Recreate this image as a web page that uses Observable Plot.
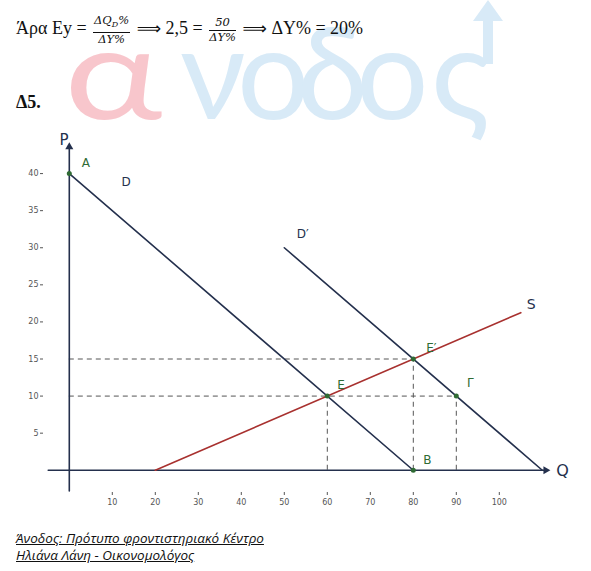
<!DOCTYPE html>
<html><head><meta charset="utf-8">
<script src="https://cdn.jsdelivr.net/npm/d3@7"></script>
<script src="https://cdn.jsdelivr.net/npm/@observablehq/plot@0.6"></script>
<style>
body{margin:0;background:#fff;width:591px;height:571px;position:relative;overflow:hidden;font-family:"Liberation Serif",serif;color:#111;}
.wm{position:absolute;top:6px;font-family:Lato,"DejaVu Sans",sans-serif;font-weight:400;font-size:128px;line-height:128px;white-space:nowrap;color:#d8eaf7;}
.wm.a{color:#f8c6cc;transform:scaleX(1.3);transform-origin:left center;}
#shaft{position:absolute;left:483px;top:16px;width:10px;height:48px;background:#d8eaf7;}
#head{position:absolute;left:473px;top:0px;width:0;height:0;border-left:15px solid transparent;border-right:15px solid transparent;border-bottom:21px solid #d8eaf7;}
#eq{position:absolute;left:16px;top:14px;font-size:18px;line-height:26px;white-space:nowrap;}
.frac{display:inline-block;vertical-align:middle;text-align:center;font-family:"DejaVu Serif",serif;font-style:italic;font-size:11.5px;line-height:13px;margin:0 2px;}
.frac .n{display:block;border-bottom:1px solid #111;padding:0 1px 1px;}
.frac .d{display:block;}
.frac sub{font-size:8px;}
.arr{font-family:"DejaVu Sans",sans-serif;font-size:17px;}
#h{position:absolute;left:16px;top:92px;font-weight:bold;font-size:18px;}
#chart{position:absolute;left:0;top:125px;}
#cap{position:absolute;left:16px;top:530px;font-family:"Open Sans",sans-serif;font-style:italic;font-size:13.5px;line-height:17px;text-decoration:underline;color:#111;}
</style></head><body>
<span class="wm a" style="left:64px">α</span>
<span class="wm" style="left:180px">ν</span>
<span class="wm" style="left:237px">ο</span>
<span class="wm" style="left:297px">δ</span>
<span class="wm" style="left:356px">ο</span>
<span class="wm" style="left:431px">ς</span>
<div id="shaft"></div><div id="head"></div>
<div id="eq">Άρα Ey = <span class="frac"><span class="n">ΔQ<sub>D</sub>%</span><span class="d">ΔY%</span></span> <span class="arr">⟹</span> 2,5 = <span class="frac"><span class="n">50</span><span class="d">ΔY%</span></span> <span class="arr">⟹</span> ΔY% = 20%</div>
<div id="h">Δ5.</div>
<div id="chart"></div>
<div id="cap">Άνοδος: Πρότυπο φροντιστηριακό Κέντρο<br>Ηλιάνα Λάνη - Οικονομολόγος</div>
<script>
// Tick values
const ticksQ = [10, 20, 30, 40, 50, 60, 70, 80, 90, 100];
const ticksP = [5, 10, 15, 20, 25, 30, 35, 40];
// Curves
const demandD = [{q: 0, p: 40}, {q: 80, p: 0}];
const demandD2 = [{q: 50, p: 30}, {q: 110, p: 0}];
const supplyS = [{q: 20, p: 0}, {q: 105, p: 21.25}];
// Axis extents
const axisQ = [{q: -4.9, p: 0}, {q: 110.8, p: 0}];
const axisP = [{q: 0, p: -2.8}, {q: 0, p: 43.6}];
// Points
const points = [
  {name: "A", q: 0, p: 40},
  {name: "E", q: 60, p: 10},
  {name: "E′", q: 80, p: 15},
  {name: "Γ", q: 90, p: 10},
  {name: "B", q: 80, p: 0}
];
const pointLabels = [
  {name: "A", q: 2.9, p: 41.4},
  {name: "E", q: 62.3, p: 11.5},
  {name: "E′", q: 83.0, p: 16.4},
  {name: "Γ", q: 92.5, p: 11.7},
  {name: "B", q: 82.3, p: 1.4}
];
const curveLabels = [
  {name: "D", q: 13.2, p: 38.9, size: 12},
  {name: "D′", q: 54.3, p: 31.9, size: 12},
  {name: "S", q: 107.4, p: 22.3, size: 14},
  {name: "P", q: -1.2, p: 44.5, size: 15},
  {name: "Q", q: 114.7, p: -0.1, size: 16}
];
// Dashed guides
const hGuides = [{p: 15, q: 80}, {p: 10, q: 90}];
const vGuides = [{q: 60, p: 10}, {q: 80, p: 15}, {q: 90, p: 10}];

const navy = "#24304d";
const green = "#2f6b34";
const chart = Plot.plot({
  width: 591,
  height: 400,
  marginLeft: 43,
  marginRight: 40.6,
  marginTop: 11,
  marginBottom: 33,
  style: {fontFamily: "DejaVu Sans, sans-serif", background: "transparent", overflow: "visible"},
  x: {domain: [-6, 112], label: null},
  y: {domain: [-3, 45], label: null},
  marks: [
    Plot.axisX(ticksQ, {tickSize: 3, tickPadding: 4, fontSize: 8, color: "#555", label: null}),
    Plot.axisY(ticksP, {tickSize: 3, tickPadding: 2, fontSize: 8, color: "#555", label: null}),
    Plot.ruleY(hGuides, {y: "p", x1: 0, x2: "q", stroke: "#555", strokeDasharray: "5,4", strokeWidth: 1}),
    Plot.ruleX(vGuides, {x: "q", y1: 0, y2: "p", stroke: "#555", strokeDasharray: "5,4", strokeWidth: 1}),
    Plot.line(axisQ, {x: "q", y: "p", stroke: navy, strokeWidth: 1.6}),
    Plot.line(axisP, {x: "q", y: "p", stroke: navy, strokeWidth: 1.6}),
    Plot.dot(axisQ.slice(1), {x: "q", y: "p", symbol: "triangle", rotate: 90, r: 3, fill: navy}),
    Plot.dot(axisP.slice(1), {x: "q", y: "p", symbol: "triangle", r: 3, fill: navy}),
    Plot.line(demandD, {x: "q", y: "p", stroke: navy, strokeWidth: 1.6}),
    Plot.line(demandD2, {x: "q", y: "p", stroke: navy, strokeWidth: 1.6}),
    Plot.line(supplyS, {x: "q", y: "p", stroke: "#a8312f", strokeWidth: 1.6}),
    Plot.dot(points, {x: "q", y: "p", r: 2.5, fill: green}),
    Plot.text(pointLabels, {x: "q", y: "p", text: "name", fill: green, fontSize: 12, textAnchor: "start"}),
    Plot.text(curveLabels, {x: "q", y: "p", text: "name", fill: navy, fontSize: d => d.size})
  ]
});
document.getElementById("chart").appendChild(chart);
</script>
</body></html>
